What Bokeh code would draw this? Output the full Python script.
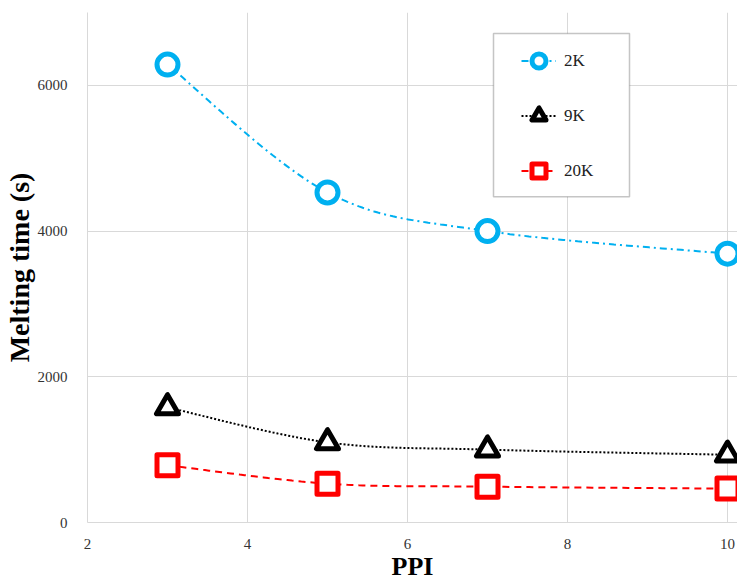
import numpy as np
from bokeh.plotting import figure
from bokeh.models import Legend, LegendItem, BoxAnnotation, FixedTicker, Range1d
from bokeh.embed import file_html
from bokeh.resources import INLINE

# ---- data ----
ppi = [3, 5, 7, 10]
t_2k = [6285, 4530, 4000, 3690]
t_9k = [1580, 1100, 1000, 930]
t_20k = [785, 533, 492, 465]
series_names = ["2K", "9K", "20K"]
x_ticks = [2, 4, 6, 8, 10]
y_ticks = [0, 2000, 4000, 6000]

X_MIN, X_MAX = 2, 10.125
Y_MIN, Y_MAX = 0, 7000
FRAME_W, FRAME_H = 651, 512


def smooth(xs, ys, n=40):
    """Excel-like smoothed line (cubic Bezier, tension 1/6) in screen-scaled space."""
    kx = FRAME_W / (X_MAX - X_MIN)
    ky = FRAME_H / (Y_MAX - Y_MIN)
    P = np.column_stack([np.asarray(xs, float) * kx, np.asarray(ys, float) * ky])
    out = []
    t = np.linspace(0, 1, n)[:, None]
    for i in range(len(P) - 1):
        p0 = P[i - 1] if i > 0 else P[i]
        p1, p2 = P[i], P[i + 1]
        p3 = P[i + 2] if i + 2 < len(P) else P[i + 1]
        c1 = p1 + (p2 - p0) / 6.0
        c2 = p2 - (p3 - p1) / 6.0
        seg = (1 - t) ** 3 * p1 + 3 * (1 - t) ** 2 * t * c1 + 3 * (1 - t) * t ** 2 * c2 + t ** 3 * p2
        out.append(seg if i == 0 else seg[1:])
    S = np.vstack(out)
    return S[:, 0] / kx, S[:, 1] / ky


SERIF = "Liberation Serif"

p = figure(width=737, height=583,
           x_range=Range1d(X_MIN, X_MAX), y_range=Range1d(Y_MIN, Y_MAX),
           output_backend="svg", toolbar_location=None,
           min_border_left=86, min_border_right=0, min_border_top=12, min_border_bottom=59)

p.outline_line_color = None
p.background_fill_color = "white"
p.xaxis.ticker = FixedTicker(ticks=x_ticks)
p.yaxis.ticker = FixedTicker(ticks=y_ticks)
p.xgrid.ticker = FixedTicker(ticks=x_ticks)
p.ygrid.ticker = FixedTicker(ticks=y_ticks)
p.grid.grid_line_color = "#D9D9D9"
p.grid.grid_line_width = 1

p.xaxis.axis_label = "PPI"
p.yaxis.axis_label = "Melting time (s)"
for ax in (p.xaxis[0], p.yaxis[0]):
    ax.axis_label_text_font = SERIF
    ax.axis_label_text_font_style = "bold"
    ax.axis_label_text_font_size = "28px"
    ax.axis_label_text_color = "black"
    ax.major_label_text_font = SERIF
    ax.major_label_text_font_size = "15px"
    ax.major_label_text_color = "#333333"
    ax.major_tick_line_color = None
    ax.minor_tick_line_color = None
    ax.axis_line_color = "#D9D9D9"
    ax.axis_line_width = 1
p.xaxis.axis_label_text_font_size = "26px"
p.xaxis.major_label_standoff = 10
p.xaxis.axis_label_standoff = 0
p.yaxis.major_label_standoff = 14
p.yaxis.axis_label_standoff = 0

styles = [
    dict(color="#00B0F0", dash="7 4 2 4", marker="circle", size=21),
    dict(color="black", dash="2 2", marker="triangle", size=22),
    dict(color="#FF0000", dash="7 5", marker="square", size=21),
]
items = []
for name, ys, st in zip(series_names, [t_2k, t_9k, t_20k], styles):
    sx, sy = smooth(ppi, ys)
    ln = p.line(sx, sy, line_color=st["color"], line_width=2, line_dash=st["dash"])
    p.scatter(ppi, ys, marker=st["marker"], size=st["size"], fill_color="white",
              line_color=st["color"], line_width=5, line_join="round")
    leg = p.scatter(ppi, ys, marker=st["marker"], size=st["size"], fill_color="white",
                    line_color=st["color"], line_width=5, line_join="round")
    leg.visible = False
    items.append(LegendItem(label=name, renderers=[ln, leg]))

box = BoxAnnotation(left=7.075, right=8.775, bottom=4470, top=6713,
                    fill_color="white", fill_alpha=1.0,
                    line_color="#404040", line_width=1.5)
p.add_layout(box)

legend = Legend(items=items, location=(434, 334), orientation="vertical",
                padding=0, margin=0, spacing=20,
                glyph_width=35, glyph_height=35, label_height=35,
                label_standoff=8,
                label_text_font=SERIF, label_text_font_size="17px",
                label_text_color="#222222",
                border_line_color=None, background_fill_alpha=0)
p.add_layout(legend)

open("out.html", "w").write(file_html(p, INLINE))
